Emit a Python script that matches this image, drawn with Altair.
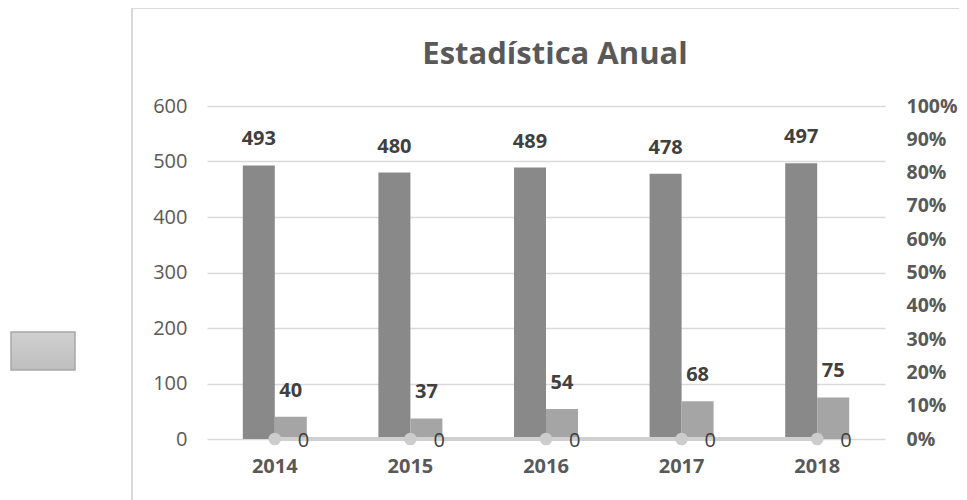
import altair as alt
import pandas as pd

years = ["2014", "2015", "2016", "2017", "2018"]
serie1 = [493, 480, 489, 478, 497]
serie2 = [40, 37, 54, 68, 75]
serie3 = [0, 0, 0, 0, 0]  # percentage series (right axis)
pct_ticks = [0.0, 0.1, 0.2, 0.3, 0.4, 0.5, 0.6, 0.7, 0.8, 0.9, 1.0]
left_ticks = [0, 100, 200, 300, 400, 500, 600]

bars = pd.DataFrame(
    [{"year": y, "serie": "Serie1", "value": v} for y, v in zip(years, serie1)]
    + [{"year": y, "serie": "Serie2", "value": v} for y, v in zip(years, serie2)]
)
pct = pd.DataFrame({"year": years, "pct": serie3})

FONT = "Open Sans"
xscale = alt.Scale(domain=years, paddingInner=0.528, paddingOuter=0.264)
xaxis = alt.Axis(title=None, labelFontWeight="bold", labelFontSize=20,
                 labelColor="#595959", labelPadding=17, domain=False,
                 ticks=False, labelAngle=0, labelFont=FONT)
xenc = alt.X("year:N", scale=xscale, sort=years, axis=xaxis)
xoff = alt.XOffset("serie:N", scale=alt.Scale(domain=["Serie1", "Serie2"], paddingInner=0, paddingOuter=0))

yleft = alt.Y("value:Q", scale=alt.Scale(domain=[0, 600], nice=False),
              axis=alt.Axis(title=None, values=left_ticks,
                            labelFontSize=20, labelColor="#595959", labelPadding=20,
                            domain=False, ticks=False, gridColor="#d9d9d9",
                            gridWidth=1.5, labelFont=FONT))

bar_layer = alt.Chart(bars).mark_bar().encode(
    x=xenc, xOffset=xoff, y=yleft,
    color=alt.Color("serie:N", scale=alt.Scale(domain=["Serie1", "Serie2"],
                                               range=["#898989", "#a5a5a5"]), legend=None),
)
bar_text = alt.Chart(bars).mark_text(fontWeight="bold", fontSize=20, color="#404040",
                                     baseline="middle", dy=-26, font=FONT).encode(
    x=xenc, xOffset=xoff, y=yleft, text=alt.Text("value:Q"),
)
left = alt.layer(bar_layer, bar_text)

yright = alt.Y("pct:Q", scale=alt.Scale(domain=[0, 1], nice=False),
               axis=alt.Axis(title=None, orient="right", format=".0%",
                             values=pct_ticks, labelFontSize=19.5,
                             labelFontWeight="bold", labelColor="#595959",
                             labelPadding=21, domain=False, ticks=False, grid=False,
                             labelOverlap=False, labelSeparation=0, labelFont=FONT))
line = alt.Chart(pct).mark_line(color="#d0d0d0", strokeWidth=4).encode(x=xenc, y=yright)
pts = alt.Chart(pct).mark_circle(color="#cccccc", size=160, opacity=1).encode(x=xenc, y=yright)
ptxt = alt.Chart(pct).mark_text(fontSize=20, color="#404040", align="left",
                                baseline="middle", dx=23, dy=2, font=FONT).encode(
    x=xenc, y=yright, text=alt.Text("pct:Q", format=".0f"))
right = alt.layer(line, pts, ptxt)

deco_data = alt.Data(values=[{"k": 1}])
border = alt.Chart(deco_data).mark_rect(fill=None, stroke="#d9d9d9", strokeWidth=2,
                                        clip=False).encode(
    x=alt.value(-75), x2=alt.value(770), y=alt.value(-98), y2=alt.value(420))
legend_box = alt.Chart(deco_data).mark_rect(
    fill={"x1": 0, "y1": 0, "x2": 0, "y2": 1, "gradient": "linear",
          "stops": [{"offset": 0, "color": "#d0d0d0"}, {"offset": 1, "color": "#bebebe"}]},
    stroke="#a8a8a8", strokeWidth=1.5, clip=False).encode(
    x=alt.value(-196), x2=alt.value(-132), y=alt.value(226), y2=alt.value(264))

chart = alt.layer(border, legend_box, left, right).resolve_scale(y="independent").properties(
    width=678, height=333,
    padding={"left": 199, "top": 98, "right": 74, "bottom": 61},
    autosize=alt.AutoSizeParams(type="none"),
    background="white",
    title=alt.Title("Estadística Anual", fontSize=31, fontWeight="bold", color="#595959",
                    font=FONT, anchor="middle", dx=9, offset=0, dy=95, baseline="bottom"),
).configure_view(stroke="transparent", strokeWidth=0)

chart.save("out.html", embed_options={"renderer": "svg", "actions": False})
